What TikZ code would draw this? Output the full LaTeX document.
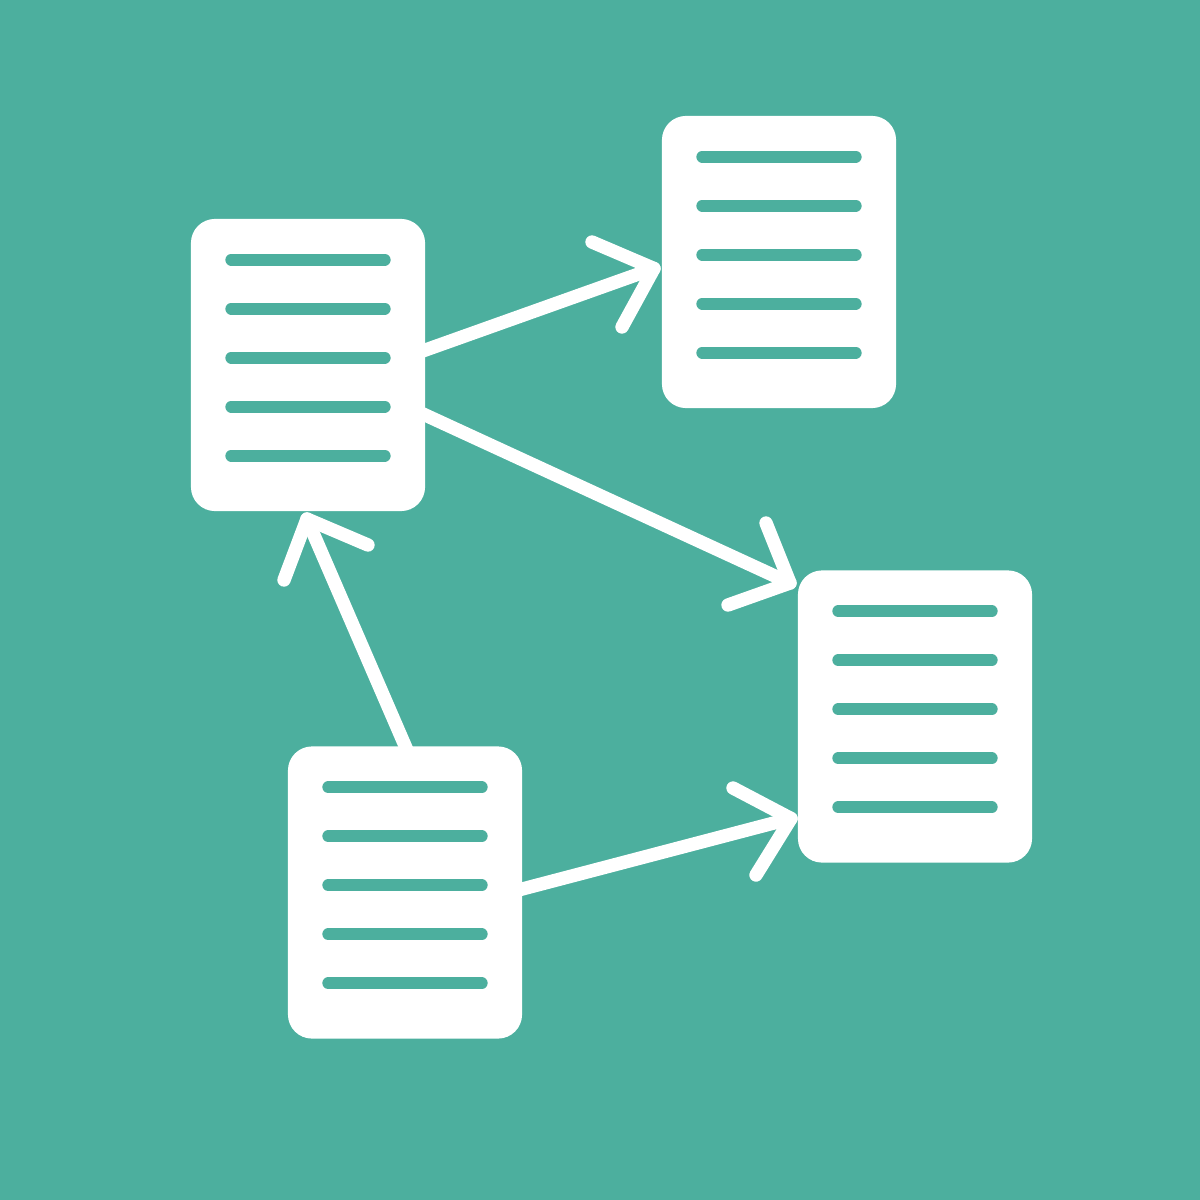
\documentclass[tikz,border=0pt]{standalone}
\usetikzlibrary{calc}
\definecolor{teal1}{HTML}{4CAF9E}
\begin{document}
\begin{tikzpicture}[x=0.01cm,y=-0.01cm,
  doc/.style={fill=white,draw=none,rounded corners=0.24cm,minimum width=2.34cm,minimum height=2.92cm,inner sep=0pt},
  docline/.style={draw=teal1,line width=3.35pt,line cap=round},
  conn/.style={draw=white,line width=3.8pt,line cap=round,line join=round}]
\fill[teal1] (0,0) rectangle (1200,1200);
\useasboundingbox (0,0) rectangle (1200,1200);
% arrow coordinates
\coordinate (s1) at (410,355.5);
\coordinate (t1) at (654,268.5);
\coordinate (a1) at (592,242);
\coordinate (b1) at (622,327);
\coordinate (s2) at (410,408);
\coordinate (t2) at (790,583);
\coordinate (a2) at (766,523);
\coordinate (b2) at (728,605);
\coordinate (s3) at (413,764);
\coordinate (t3) at (307,519);
\coordinate (a3) at (284,580);
\coordinate (b3) at (368,545);
\coordinate (s4) at (507,893);
\coordinate (t4) at (791,818.5);
\coordinate (a4) at (733,788);
\coordinate (b4) at (756,875);
\foreach \i in {1,2,3,4}{
  \draw[conn] (s\i) -- (t\i);
  \draw[conn] (a\i) -- (t\i) -- (b\i);
}
% documents
\node[doc] (A) at (308,365) {};
\node[doc] (B) at (779,262) {};
\node[doc] (C) at (915,716.5) {};
\node[doc] (D) at (405,892.5) {};
\foreach \n in {A,B,C,D}{
  \foreach \k in {0,...,4}{
    \draw[docline] ($(\n.north west)+(41,41.5+49*\k)$) -- ($(\n.north east)+(-41,41.5+49*\k)$);
  }
}
\end{tikzpicture}
\end{document}
